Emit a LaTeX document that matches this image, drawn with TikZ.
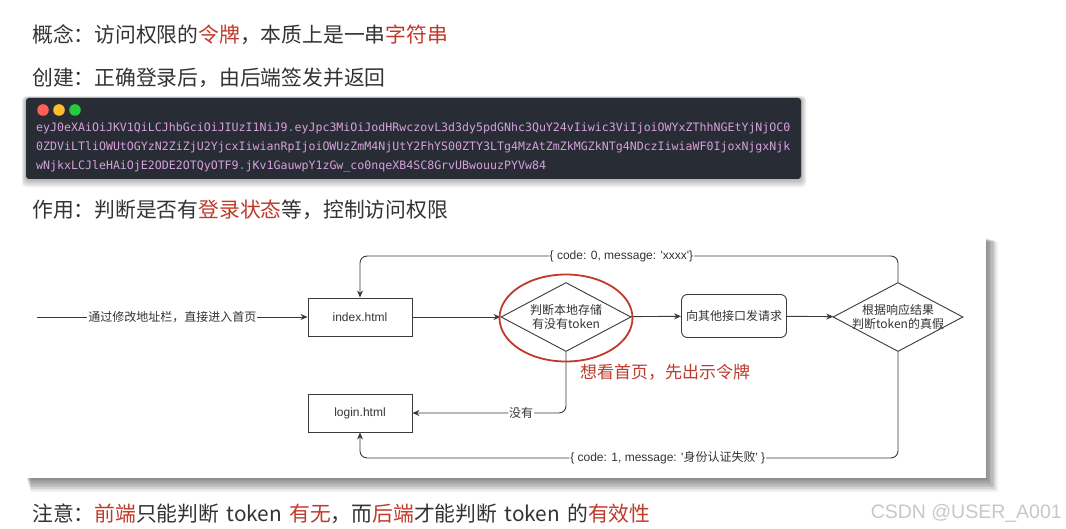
\documentclass[tikz,border=0pt]{standalone}
\usepackage{fontspec}
\setmainfont{Noto Sans CJK SC}
\newfontfamily\diafont{Liberation Sans}
\newfontfamily\tokfont{DejaVu Sans Mono}
\usetikzlibrary{shapes.geometric,arrows.meta,positioning}

\definecolor{textgray}{HTML}{333333}
\definecolor{markred}{HTML}{C0392B}
\definecolor{linegray}{HTML}{3A3A3A}
\definecolor{codebg}{HTML}{282C34}
\definecolor{codepink}{HTML}{D7A1DC}
\definecolor{codedot}{HTML}{56B6C2}
\definecolor{winred}{HTML}{FF5F56}
\definecolor{winorange}{HTML}{FFBD2E}
\definecolor{wingreen}{HTML}{27C93F}
\definecolor{wmgray}{HTML}{C8C8C8}

\newcommand{\redword}[1]{\textcolor{markred}{#1}}
\newcommand{\tokdot}{\textcolor{codedot}{.}}

\begin{document}
\begin{tikzpicture}[x=1pt,y=-1pt,
	headline/.style={anchor=west, inner sep=0pt, text=textgray, font=\fontsize{20.8}{24}\selectfont},
	tokline/.style={anchor=west, inner sep=0pt, text=codepink, font=\tokfont\fontsize{11.6}{14}\selectfont},
	page/.style={draw=linegray, line width=0.9pt, minimum width=104pt, minimum height=38pt, inner sep=0pt, text=textgray, font=\diafont\fontsize{12}{14}\selectfont},
	request/.style={page, rounded corners=6pt, minimum width=105pt, minimum height=43pt, font=\fontsize{12}{14}\selectfont},
	check/.style={diamond, draw=linegray, line width=0.9pt, aspect=1.88, inner sep=-16pt, minimum width=130pt, minimum height=69pt, align=center, text=textgray, font=\fontsize{12}{14.5}\selectfont},
	flow/.style={draw=linegray, line width=0.9pt, -{Stealth[length=7pt,width=6pt]}},
	edgelbl/.style={fill=white, inner sep=1pt, text=textgray, font=\fontsize{12}{14}\selectfont}
	]
	\useasboundingbox (0,0) rectangle (1066,529);
	\fill[white] (0,0) rectangle (1066,529);
	
	% Textzeilen oben
	\node[headline] (concept) at (32,35) {概念：访问权限的\redword{令牌}，本质上是一串\redword{字符串}};
	\node[headline] (create) at (32,78) {创建：正确登录后，由后端签发并返回};
	
	% Schatten und Fenster mit dem Token
	\foreach \s in {1,...,6}
		\fill[black, opacity=0.05, rounded corners=4pt] (26-\s*0.7,98-\s*0.3) rectangle (801+\s*0.9,179+\s*1.4);
	\fill[codebg, rounded corners=3pt] (26,98) rectangle (801,179);
	\fill[winred] (43,110) circle [radius=5.8pt];
	\fill[winorange] (59,110) circle [radius=5.8pt];
	\fill[wingreen] (75,110) circle [radius=5.8pt];
	\node[tokline] (tok1) at (36,128) {eyJ0eXAiOiJKV1QiLCJhbGciOiJIUzI1NiJ9\tokdot eyJpc3MiOiJodHRwczovL3d3dy5pdGNhc3QuY24vIiwic3ViIjoiOWYxZThhNGEtYjNjOC0};
	\node[tokline] (tok2) at (36,147) {0ZDViLTliOWUtOGYzN2ZiZjU2YjcxIiwianRpIjoiOWUzZmM4NjUtY2FhYS00ZTY3LTg4MzAtZmZkMGZkNTg4NDczIiwiaWF0IjoxNjgxNjk};
	\node[tokline] (tok3) at (36,166) {wNjkxLCJleHAiOjE2ODE2OTQyOTF9\tokdot jKv1GauwpY1zGw\_co0nqeXB4SC8GrvUBwouuzPYVw84};
	
	\node[headline] (usage) at (32,210) {作用：判断是否有\redword{登录状态}等，控制访问权限};
	
	% Schatten und weisse Flaeche des Ablaufs
	\foreach \s in {1,...,9}
		\fill[black, opacity=0.06] (26+\s*0.5,238+\s*0.4) rectangle (986+\s*1.3,478+\s*1.5);
	\fill[white] (26,238) rectangle (986,478);
	
	% Knoten des Ablaufs
	\node[page] (index) at (360,317) {index.html};
	\node[page] (login) at (360,413) {login.html};
	\node[check] (localchk) at (566,317) {判断本地存储\\有没有token};
	\node[request] (ask) at (734,316) {向其他接口发请求};
	\node[check] (verify) at (898,317) {根据响应结果\\判断token的真假};
	
	% Einstieg ueber die Adresszeile
	\coordinate (entry) at (37,317);
	\draw[flow] (entry) -- node[edgelbl] {通过修改地址栏，直接进入首页} (index);
	
	% Pfeile nach rechts
	\draw[flow] (index) -- (localchk);
	\draw[flow] (localchk) -- (ask);
	\draw[flow] (ask) -- (verify);
	
	% Rueckwege oben, unten und ohne Token
	\draw[flow, rounded corners=7pt] (verify.north) -- ++(0,-26) -| node[edgelbl, pos=0.257] {\diafont\{ code: 0, message: \textquotesingle xxxx\textquotesingle\}} (index.north);
	\draw[flow, rounded corners=7pt] (verify.south) -- ++(0,106) -| node[edgelbl, pos=0.214] {\diafont\{ code: 1, message: \textquotesingle{}\rmfamily 身份认证失败\diafont\textquotesingle{} \}} (login.south);
	\draw[flow, rounded corners=7pt] (localchk.south) |- node[edgelbl, pos=0.646] {没有} (login.east);
	
	% Roter Kreis und Hinweis
	\node[ellipse, draw=markred, line width=1.8pt, minimum width=133pt, minimum height=87pt, inner sep=0pt] (tokenmark) at (566,318) {};
	\node[anchor=west, inner sep=0pt, text=markred, font=\fontsize{17}{20}\selectfont] (hint) at (580,372) {想看首页，先出示令牌};
	
	% Textzeile unten und Wasserzeichen
	\node[headline] (note) at (32,514) {注意：\redword{前端}只能判断\hspace{0.35em}token\hspace{0.35em}\redword{有无}，而\redword{后端}才能判断\hspace{0.35em}token\hspace{0.35em}的\redword{有效性}};
	\node[anchor=east, inner sep=0pt, text=wmgray, font=\diafont\fontsize{19.5}{22}\selectfont] (mark) at (1062,513) {CSDN @USER\_A001};
\end{tikzpicture}
\end{document}
